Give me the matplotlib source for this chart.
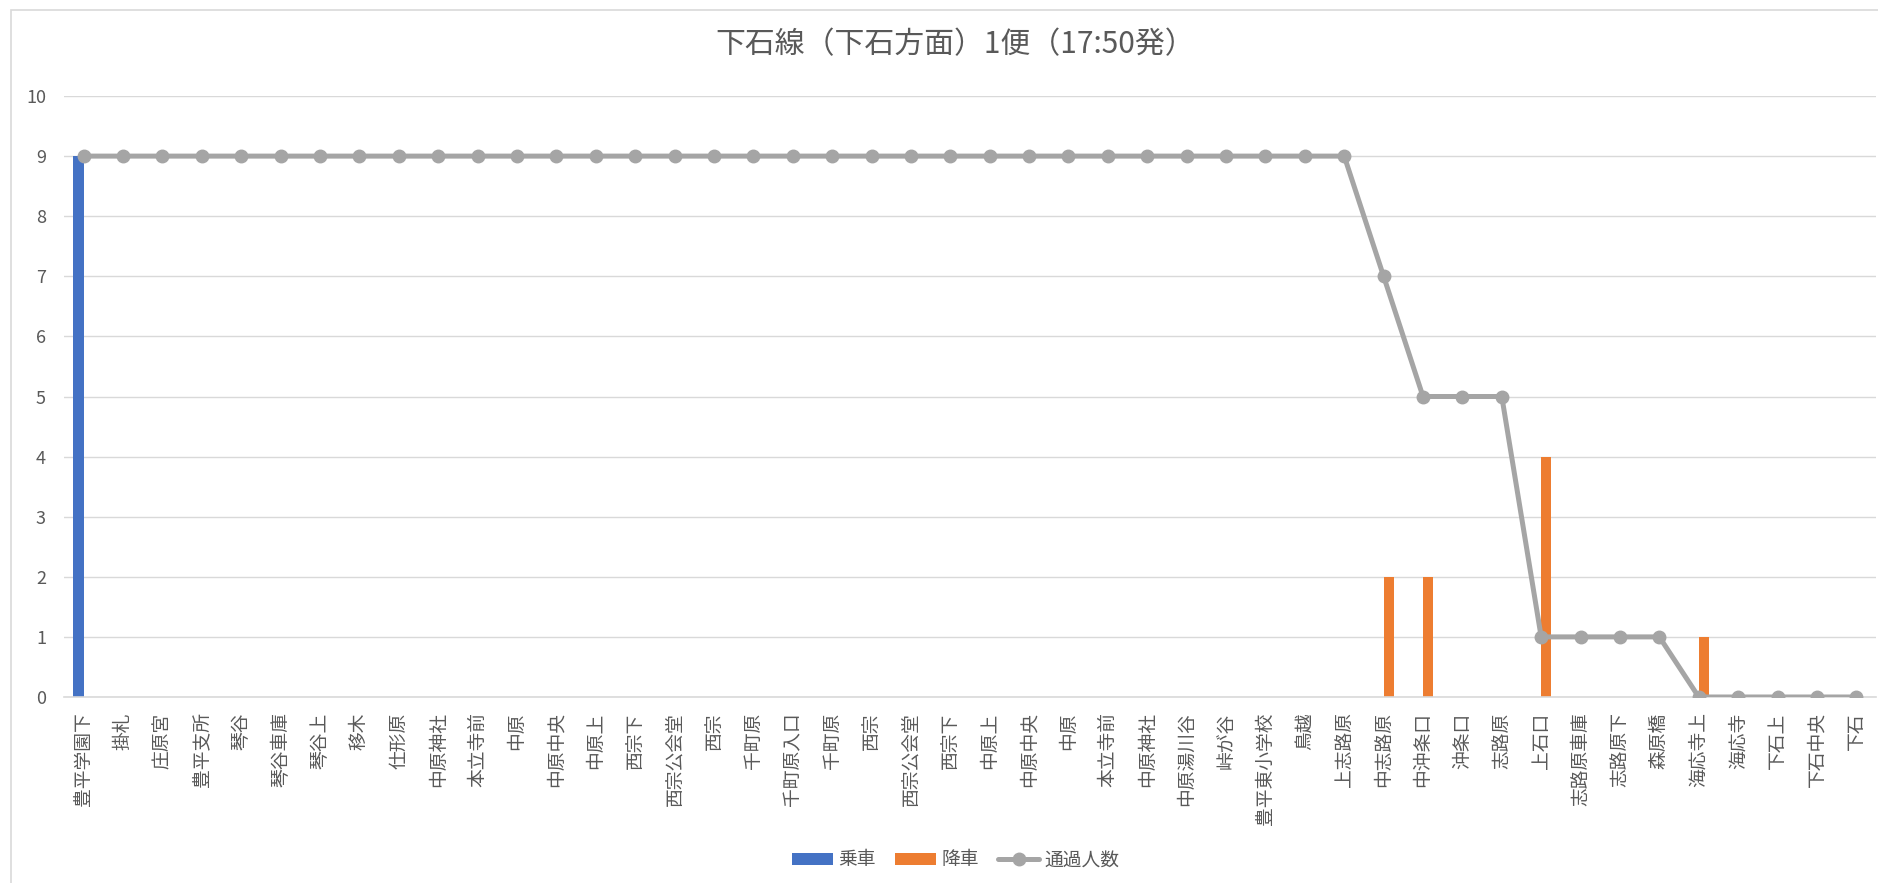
import matplotlib
matplotlib.use('Agg')
import matplotlib.pyplot as plt
from matplotlib.patches import Rectangle
import numpy as np

plt.rcParams['font.family'] = ['Noto Sans CJK JP', 'DejaVu Sans']

# バス停
stops = ['豊平学園下', '掛札', '庄原宮', '豊平支所', '琴谷', '琴谷車庫', '琴谷上', '移木',
         '仕形原', '中原神社', '本立寺前', '中原', '中原中央', '中原上', '西宗下', '西宗公会堂',
         '西宗', '千町原', '千町原入口', '千町原', '西宗', '西宗公会堂', '西宗下', '中原上',
         '中原中央', '中原', '本立寺前', '中原神社', '中原湯川谷', '峠が谷', '豊平東小学校', '鳥越',
         '上志路原', '中志路原', '中沖条口', '沖条口', '志路原', '上石口', '志路原車庫', '志路原下',
         '森原橋', '海応寺上', '海応寺', '下石上', '下石中央', '下石']

boarding = [9] + [0] * 45
alighting = [0] * 46
alighting[33] = 2   # 中志路原
alighting[34] = 2   # 中沖条口
alighting[37] = 4   # 上石口
alighting[41] = 1   # 海応寺上

passing = [9] * 33 + [7, 5, 5, 5, 1, 1, 1, 1, 0, 0, 0, 0, 0]

title = '下石線（下石方面）1便（17:50発）'

fig = plt.figure(figsize=(18.78, 8.83), dpi=100)
W, H = 1878, 883

# chart frame (Excel style)
fig.patches.append(Rectangle((11 / W, -0.1), 1.2, 1 - 10 / H + 0.1, transform=fig.transFigure,
                             fill=False, edgecolor='#d9d9d9', linewidth=1.2))

ax = fig.add_axes([64 / W, 1 - 697 / H, (1876 - 64) / W, (697 - 96) / H])
x = np.arange(len(stops))
bw = 0.26
b1 = ax.bar(x - bw / 2, boarding, width=bw, color='#4472c4', label='乗車', zorder=2)
b2 = ax.bar(x + bw / 2, alighting, width=bw, color='#ed7d31', label='降車', zorder=2)
l1, = ax.plot(x, passing, color='#a5a5a5', linewidth=3.6, marker='o', markersize=9,
              label='通過人数', zorder=3, solid_capstyle='round')

ax.set_xlim(-0.5, len(stops) - 0.5)
ax.set_ylim(0, 10)
ax.set_yticks(range(0, 11))
ax.yaxis.grid(True, color='#d9d9d9', linewidth=1.0, zorder=0)
ax.set_axisbelow(True)
for s in ['top', 'right', 'left']:
    ax.spines[s].set_visible(False)
ax.spines['bottom'].set_color('#d9d9d9')
ax.spines['bottom'].set_linewidth(1.2)
ax.tick_params(axis='both', length=0)
ax.tick_params(axis='y', labelsize=13, labelcolor='#595959', pad=13)
ax.set_xticks(x)
ax.set_xticklabels(stops, rotation=90, fontsize=13.5, color='#595959')
ax.tick_params(axis='x', pad=11)

fig.text(0.5085, 1 - 45 / H, title, ha='center', va='center', fontsize=21.5, color='#595959')

fig.legend([b1, b2, l1], ['乗車', '降車', '通過人数'], loc='center',
           bbox_to_anchor=(0.509, 1 - 860 / H), ncol=3,
           frameon=False, fontsize=13.5, labelcolor='#595959', handlelength=2.2,
           handleheight=0.55, columnspacing=1.0, handletextpad=0.3)

plt.savefig('out.png', dpi=100)
